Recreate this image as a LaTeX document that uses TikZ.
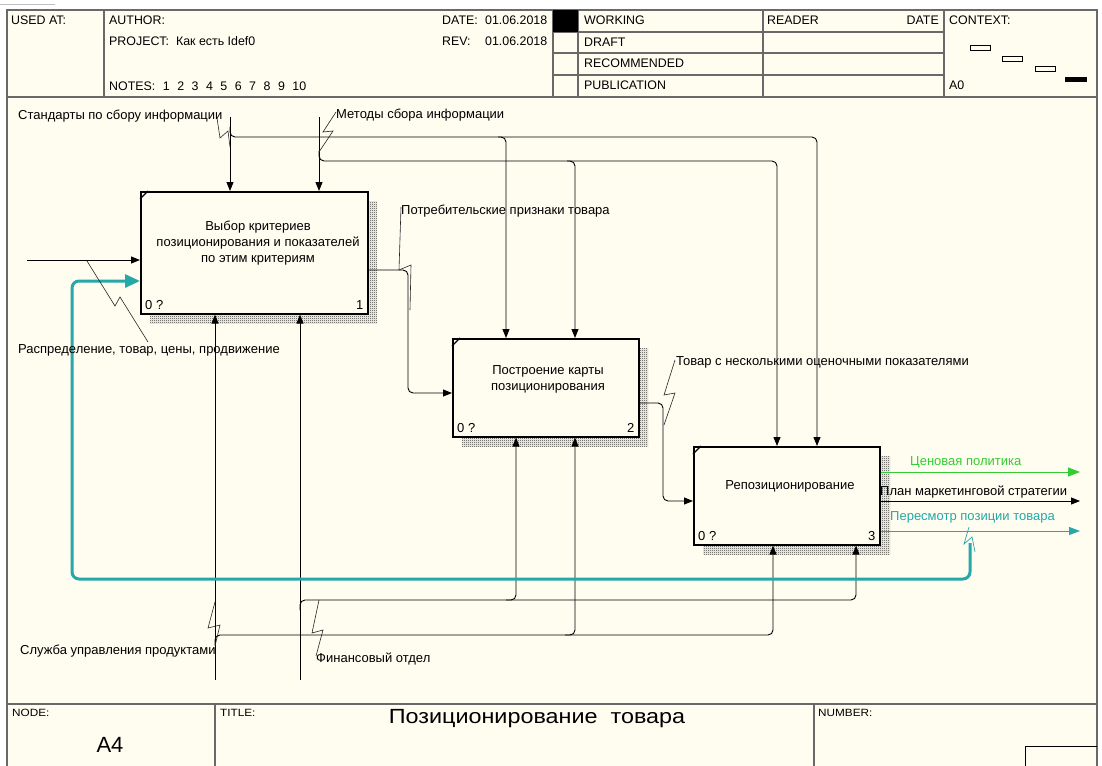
\documentclass[tikz,border=0pt]{standalone}
\usepackage{fontspec}
\setmainfont{Liberation Sans}
\usetikzlibrary{arrows.meta,patterns.meta,calc}
\definecolor{paper}{RGB}{255,252,240}
\definecolor{framegray}{RGB}{105,105,105}
\definecolor{flowgreen}{RGB}{51,204,51}
\definecolor{flowteal}{RGB}{36,168,168}
% fine checkerboard used for the box shadows
\tikzdeclarepattern{
  name=finechecker,
  type=uncolored,
  bounding box={(0pt,0pt) and (2pt,2pt)},
  tile size={(2pt,2pt)},
  code={
    \pgfpathrectangle{\pgfpointorigin}{\pgfpoint{1pt}{1pt}}
    \pgfpathrectangle{\pgfpoint{1pt}{1pt}}{\pgfpoint{1pt}{1pt}}
    \pgfusepath{fill}
  }
}
\newcommand{\notegap}{\hspace{7.5pt}}
\begin{document}
\begin{tikzpicture}[x=1pt,y=-1pt,
  every node/.style={font=\fontsize{13}{15}\selectfont, inner sep=0pt},
  txt/.style={anchor=west},
  hdr/.style={anchor=west, font=\fontsize{12.4}{14}\selectfont},
  gridline/.style={draw=framegray, line width=1.3pt},
  actbox/.style={draw=black, line width=1.6pt, fill=paper, anchor=north west},
  boxshadow/.style={pattern=finechecker, pattern color=black!80},
  boxtext/.style={align=center, font=\fontsize{13}{16}\selectfont},
  flow/.style={draw=black, line width=0.9pt, rounded corners=5pt},
  arr/.style={flow, -{Triangle[length=9pt,width=7pt]}},
  leader/.style={draw=black!85, line width=0.6pt},
  greenarr/.style={draw=flowgreen, line width=1pt, -{Triangle[length=12pt,width=9pt]}},
  tealarr/.style={draw=flowteal, line width=1pt, -{Triangle[length=11pt,width=8pt]}},
  feedback/.style={draw=flowteal, line width=3pt, rounded corners=7pt, -{Triangle[length=15pt,width=13pt]}}
]
\useasboundingbox (0,0) rectangle (1102,765);
\fill[white] (0,0) rectangle (1102,765);
\draw[black!25, line width=1pt] (0,5) -- (55,5);

% sheet
\fill[paper] (7,10) rectangle (1097,770);
\draw[gridline, line width=2pt] (7,770) -- (7,10) -- (1097,10) -- (1097,770);

% header grid
\draw[gridline] (7,97) -- (1097,97);
\draw[gridline] (104,10) -- (104,97);
\draw[gridline] (553,10) -- (553,97);
\draw[gridline] (578,10) -- (578,97);
\draw[gridline] (763,10) -- (763,97);
\draw[gridline] (944,10) -- (944,97);
\foreach \ry in {32,53,75} \draw[gridline] (553,\ry) -- (944,\ry);
\fill[black] (553,10) rectangle (578,32);

\node[hdr] (usedat) at (11,20) {USED AT:};
\node[hdr] (author) at (109,20) {AUTHOR:};
\node[hdr] (project) at (109,41) {PROJECT:\ \ Как есть Idef0};
\node[hdr] (notes) at (109,86) {NOTES:\notegap 1\notegap 2\notegap 3\notegap 4\notegap 5\notegap 6\notegap 7\notegap 8\notegap 9\notegap 10};
\node[hdr] (datel) at (442,20) {DATE:};
\node[hdr] (datev) at (485,20) {01.06.2018};
\node[hdr] (revl) at (442,41) {REV:};
\node[hdr] (revv) at (485,41) {01.06.2018};
\node[hdr] (working) at (584,20) {WORKING};
\node[hdr] (draft) at (584,42) {DRAFT};
\node[hdr] (recom) at (584,63) {RECOMMENDED};
\node[hdr] (publ) at (584,85) {PUBLICATION};
\node[hdr] (reader) at (767,20) {READER};
\node[hdr, anchor=east] (rdate) at (939,20) {DATE};
\node[hdr] (context) at (949,20) {CONTEXT:};
\node[hdr] (ctxnode) at (949,85) {A0};
\draw[black, line width=0.8pt] (970,45) rectangle (990,50);
\draw[black, line width=0.8pt] (1002,56) rectangle (1022,61);
\draw[black, line width=0.8pt] (1035,66) rectangle (1055,71);
\fill[black] (1065,77) rectangle (1087,82);

% footer grid
\draw[gridline] (7,704) -- (1097,704);
\draw[gridline] (215,704) -- (215,770);
\draw[gridline] (814,704) -- (814,770);
\draw[black, line width=1pt] (1025,770) -- (1025,746) -- (1097,746);
\node[txt, font=\fontsize{10.5}{12}\selectfont\addfontfeature{FakeStretch=1.12}] (nodel) at (12,713) {NODE:};
\node[txt, font=\fontsize{10.5}{12}\selectfont\addfontfeature{FakeStretch=1.12}] (titlel) at (220,713) {TITLE:};
\node[txt, font=\fontsize{10.5}{12}\selectfont\addfontfeature{FakeStretch=1.12}] (numberl) at (818,713) {NUMBER:};
\node[font=\fontsize{22}{24}\selectfont] (nodeid) at (110,745) {A4};
\node[font=\fontsize{20.5}{22}\selectfont\addfontfeature{FakeStretch=1.14}] (title) at (537,719) {Позиционирование\ \ товара};

% activity boxes with hatched shadows
\fill[boxshadow] (150,201) rectangle (377,323);
\node[actbox, minimum width=227pt, minimum height=122pt] (b1) at (140,191) {};
\fill[boxshadow] (462,348) rectangle (648,446);
\node[actbox, minimum width=186pt, minimum height=98pt] (b2) at (452,338) {};
\fill[boxshadow] (703,456) rectangle (890,554);
\node[actbox, minimum width=186pt, minimum height=98pt] (b3) at (693,446) {};
\foreach \b in {b1,b2,b3}
  \draw[line width=1.2pt] ($(\b.north west)+(0,8)$) -- ($(\b.north west)+(8,0)$);

\node[boxtext] (b1t) at (258,243) {Выбор критериев\\позиционирования и показателей\\по этим критериям};
\node[anchor=south west] (b1k) at ($(b1.south west)+(5,-5)$) {0 ?};
\node[anchor=south east] (b1n) at ($(b1.south east)+(-5,-5)$) {1};
\node[boxtext] (b2t) at (548,379) {Построение карты\\позиционирования};
\node[anchor=south west] (b2k) at ($(b2.south west)+(5,-5)$) {0 ?};
\node[anchor=south east] (b2n) at ($(b2.south east)+(-5,-5)$) {2};
\node[boxtext] (b3t) at (790,486) {Репозиционирование};
\node[anchor=south west] (b3k) at ($(b3.south west)+(5,-5)$) {0 ?};
\node[anchor=south east] (b3n) at ($(b3.south east)+(-5,-5)$) {3};

% free ends of boundary arrows
\coordinate (c1) at (230,117);
\coordinate (c2) at (319,117);
\coordinate (in1) at (27,260);
\coordinate (m1) at (215,680);
\coordinate (m2) at (300,680);
\coordinate (o1) at (1080,472);
\coordinate (o2) at (1080,501);
\coordinate (o3) at (1080,531);

% controls
\draw[arr] (c1) -- (c1 |- b1.north);
\draw[arr] (c2) -- (c2 |- b1.north);
\draw[arr] (230,127) -- (230,137) -- (817,137) -- (817,0 |- b3.north);
\draw[arr] (498,137) -- (506,137) -- (506,0 |- b2.north);
\draw[arr] (319,151) -- (319,161) -- (777,161) -- (777,0 |- b3.north);
\draw[arr] (567,161) -- (575,161) -- (575,0 |- b2.north);

% input and internal flows
\draw[arr] (in1) -- (in1 -| b1.west);
\draw[arr] (b1.east |- 0,270) -- (408,270) -- (408,393) -- (b2.west |- 0,393);
\draw[arr] (b2.east |- 0,403) -- (663,403) -- (663,501) -- (b3.west |- 0,501);

% mechanisms
\draw[arr] (m1) -- (m1 |- b1.south);
\draw[arr] (m2) -- (m2 |- b1.south);
\draw[arr] (215,645) -- (215,635) -- (773,635) -- (773,0 |- b3.south);
\draw[arr] (565,635) -- (575,635) -- (575,0 |- b2.south);
\draw[arr] (300,610) -- (300,600) -- (856,600) -- (856,0 |- b3.south);
\draw[arr] (506,600) -- (516,600) -- (516,0 |- b2.south);

% outputs
\draw[greenarr] (b3.east |- 0,472) -- (o1);
\draw[arr] (b3.east |- 0,501) -- (o2);
\draw[tealarr] (b3.east |- 0,531) -- (o3);
\draw[feedback] (970,543) -- (970,579) -- (72,579) -- (72,281) -- (b1.west |- 0,281);
\draw[draw=flowteal, line width=0.7pt] (969,527) -- (964,544) -- (972,537) -- (975,552);

% arrow labels with their leaders
\node[txt] (l1) at (18,116) {Стандарты по сбору информации};
\draw[leader] (217,118) -- (220,138) -- (228,131) -- (230,147);
\node[txt] (l2) at (336,115) {Методы сбора информации};
\draw[leader] (336,112) -- (323,132) -- (333,131) -- (319,152);
\node[txt] (l3) at (401,211) {Потребительские признаки товара};
\draw[leader] (401,207) -- (399,270) -- (411,265) -- (410,310);
\node[txt] (l4) at (676,362) {Товар с несколькими оценочными показателями};
\draw[leader] (675,360) -- (664,395) -- (675,393) -- (664,425);
\node[txt] (l5) at (18,350) {Распределение, товар, цены, продвижение};
\draw[leader] (87,261) -- (115,306) -- (120,297) -- (148,342);
\node[txt] (l6) at (20,651) {Служба управления продуктами};
\draw[leader] (215,602) -- (208,628) -- (220,625) -- (215,646);
\node[txt] (l7) at (316,659) {Финансовый отдел};
\draw[leader] (319,600) -- (312,633) -- (323,630) -- (316,656);
\node[txt, text=flowgreen] (l8) at (910,462) {Ценовая политика};
\node[txt] (l9) at (880,492) {План маркетинговой стратегии};
\node[txt, text=flowteal] (l10) at (890,517) {Пересмотр позиции товара};
\end{tikzpicture}
\end{document}
